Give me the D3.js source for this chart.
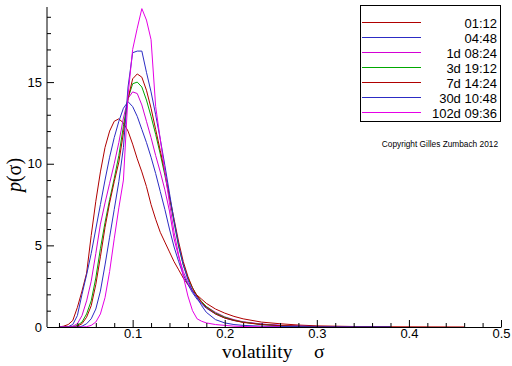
<!DOCTYPE html>
<html><head><meta charset="utf-8">
<script src="https://cdn.jsdelivr.net/npm/d3@7"></script>
<style>body{margin:0;background:#fff}svg{display:block}</style>
</head><body>
<svg id="c" width="512" height="366"></svg>
<script>
const sigma = [0.02,0.025,0.03,0.035,0.04,0.045,0.05,0.055,0.06,0.065,0.07,0.075,0.08,0.085,0.09,0.095,0.1,0.105,0.11,0.115,0.12,0.125,0.13,0.135,0.14,0.145,0.15,0.155,0.16,0.165,0.17,0.175,0.18,0.19,0.2,0.21,0.22,0.24,0.26,0.28,0.3,0.34,0.38,0.42,0.46];
const s0112  = [0,0.05,0.15,0.4,1.2,2.2,3.3,5.6,7.7,9.5,11.0,12.0,12.6,12.75,12.5,12.0,11.2,10.3,9.5,8.6,7.5,6.6,5.8,5.2,4.6,4.0,3.5,3.0,2.6,2.25,1.95,1.7,1.45,1.1,0.85,0.65,0.5,0.3,0.2,0.12,0.07,0.03,0.015,0.008,0.003];
const s0448  = [0,0,0.02,0.15,0.7,2.0,3.2,4.5,6.0,7.5,9.0,10.4,11.6,12.6,13.4,13.8,13.5,12.9,12.1,11.3,10.4,9.4,8.3,7.2,6.0,4.9,4.0,3.2,2.6,2.1,1.7,1.4,1.15,0.8,0.55,0.4,0.3,0.17,0.1,0.06,0.03,0.015,0.005,null,null];
const s1d    = [0,0,0,0.05,0.2,0.7,1.6,2.8,4.5,6.3,7.6,8.8,10.0,11.3,12.8,14.0,14.4,14.3,13.6,12.6,11.6,10.5,9.5,8.4,7.1,5.4,4.3,3.4,2.7,2.2,1.8,1.5,1.25,0.9,0.62,0.45,0.32,0.18,0.1,0.05,0.02,0.005,null,null,null];
const s3d    = [0,0,0,0,0.1,0.3,0.8,1.6,3.0,4.8,6.4,7.8,9.1,10.5,12.3,14.0,14.9,15.0,14.7,13.9,12.9,11.8,10.6,9.3,7.9,6.4,4.9,3.8,3.0,2.4,1.9,1.55,1.25,0.85,0.6,0.42,0.3,0.15,0.08,0.03,0.01,null,null,null,null];
const s7d    = [0,0,0,0,0.05,0.2,0.6,1.3,2.6,4.3,6.1,7.6,8.9,10.1,11.9,14.0,15.2,15.5,15.3,14.5,13.4,12.1,10.8,9.5,8.0,6.6,5.2,4.0,3.1,2.4,1.9,1.5,1.2,0.8,0.55,0.4,0.28,0.15,0.08,0.05,0.03,0.015,0.01,null,null];
const s30d   = [0,0,0,0,0,0.05,0.2,0.5,1.1,2.2,3.8,5.5,7.2,8.9,11.0,14.7,16.8,16.9,16.9,15.6,14.4,13.0,11.5,9.9,8.2,6.5,5.0,3.8,2.9,2.2,1.8,1.3,0.9,0.45,0.25,0.15,0.1,0.05,0.03,0.02,0.01,0.005,0.003,null,null];
const s102d  = [0,0,0,0,0,0,0.02,0.1,0.3,0.8,1.8,3.4,5.4,7.3,9.0,14.2,17.0,18.3,19.5,18.8,17.6,13.5,11.5,9.5,7.6,5.8,4.4,3.1,1.9,1.0,0.5,0.35,0.25,0.15,0.1,0.05,0.03,0.01,0,null,null,null,null,null,null];
const seriesLabels = ["01:12","04:48","1d 08:24","3d 19:12","7d 14:24","30d 10:48","102d 09:36"];
const seriesColors = ["#b00000","#2c2cc4","#d400d4","#00a800","#b00000","#2c2cc4","#e600e6"];
const xTicks = [0.1,0.2,0.3,0.4,0.5];
const xMinor = [0.02,0.04,0.06,0.08,0.12,0.14,0.16,0.18,0.22,0.24,0.26,0.28,0.32,0.34,0.36,0.38,0.42,0.44,0.46,0.48];
const yTicks = [0,5,10,15];
const yMinor = [1,2,3,4,6,7,8,9,11,12,13,14,16,17,18,19];
const allSeries = [s0112,s0448,s1d,s3d,s7d,s30d,s102d];

const svg = d3.select("#c");
const x = d3.scaleLinear().domain([0.007,0.5]).range([47,501]);
const y = d3.scaleLinear().domain([0,19.6]).range([327,7]);

const line = d3.line().defined(d=>d[1]!==null).x(d=>x(d[0])).y(d=>y(d[1]));
allSeries.forEach((s,i)=>{
  svg.append("path").datum(sigma.map((v,j)=>[v,s[j]]))
    .attr("d",line).attr("fill","none").attr("stroke",seriesColors[i]).attr("stroke-width",1);
});

// axes
const fontSans = "Liberation Sans, Arial, sans-serif";
svg.append("g").attr("transform","translate(0,327)")
  .call(d3.axisBottom(x).tickValues(xTicks).tickFormat(d3.format(".1f")).tickSizeInner(-7).tickSizeOuter(0).tickPadding(2));
svg.append("g").attr("transform","translate(0,327)")
  .call(d3.axisBottom(x).tickValues(xMinor).tickFormat("").tickSizeInner(-4).tickSizeOuter(0))
  .select(".domain").remove();
const gy = svg.append("g").attr("transform","translate(47,0)")
  .call(d3.axisLeft(y).tickValues(yTicks).tickSizeInner(-7).tickSizeOuter(0).tickPadding(5));
svg.append("g").attr("transform","translate(47,0)")
  .call(d3.axisLeft(y).tickValues(yMinor).tickFormat("").tickSizeInner(-4).tickSizeOuter(0))
  .select(".domain").remove();
svg.selectAll(".tick text").attr("font-family",fontSans).attr("font-size",13).attr("fill","#000");
svg.selectAll(".domain, .tick line").attr("stroke","#000");
gy.select(".domain").attr("d","M0,327V7");

// axis titles
svg.append("text").attr("x",222).attr("y",358).attr("font-family","Liberation Serif, serif").attr("font-size",19.5).text("volatility");
svg.append("text").attr("x",314).attr("y",358).attr("font-family","Liberation Serif, serif").attr("font-size",19.5).text("σ");
const yl = svg.append("text").attr("transform","translate(21,175) rotate(-90)").attr("text-anchor","middle")
  .attr("font-family","Liberation Serif, serif").attr("font-size",20);
yl.append("tspan").attr("font-style","italic").text("p");
yl.append("tspan").text("(σ)");

// legend
svg.append("rect").attr("x",360.5).attr("y",5.5).attr("width",140).attr("height",116).attr("fill","#fff").attr("stroke","#000");
seriesLabels.forEach((lab,i)=>{
  const yy = 22.5 + i*15;
  svg.append("line").attr("x1",362).attr("x2",421).attr("y1",yy).attr("y2",yy).attr("stroke",seriesColors[i]);
  svg.append("text").attr("x",497).attr("y",yy+5).attr("text-anchor","end").attr("font-family",fontSans).attr("font-size",13).text(lab);
});
svg.append("text").attr("x",498).attr("y",147).attr("text-anchor","end").attr("font-family",fontSans).attr("font-size",8.3).text("Copyright Gilles Zumbach 2012");
</script>
</body></html>
